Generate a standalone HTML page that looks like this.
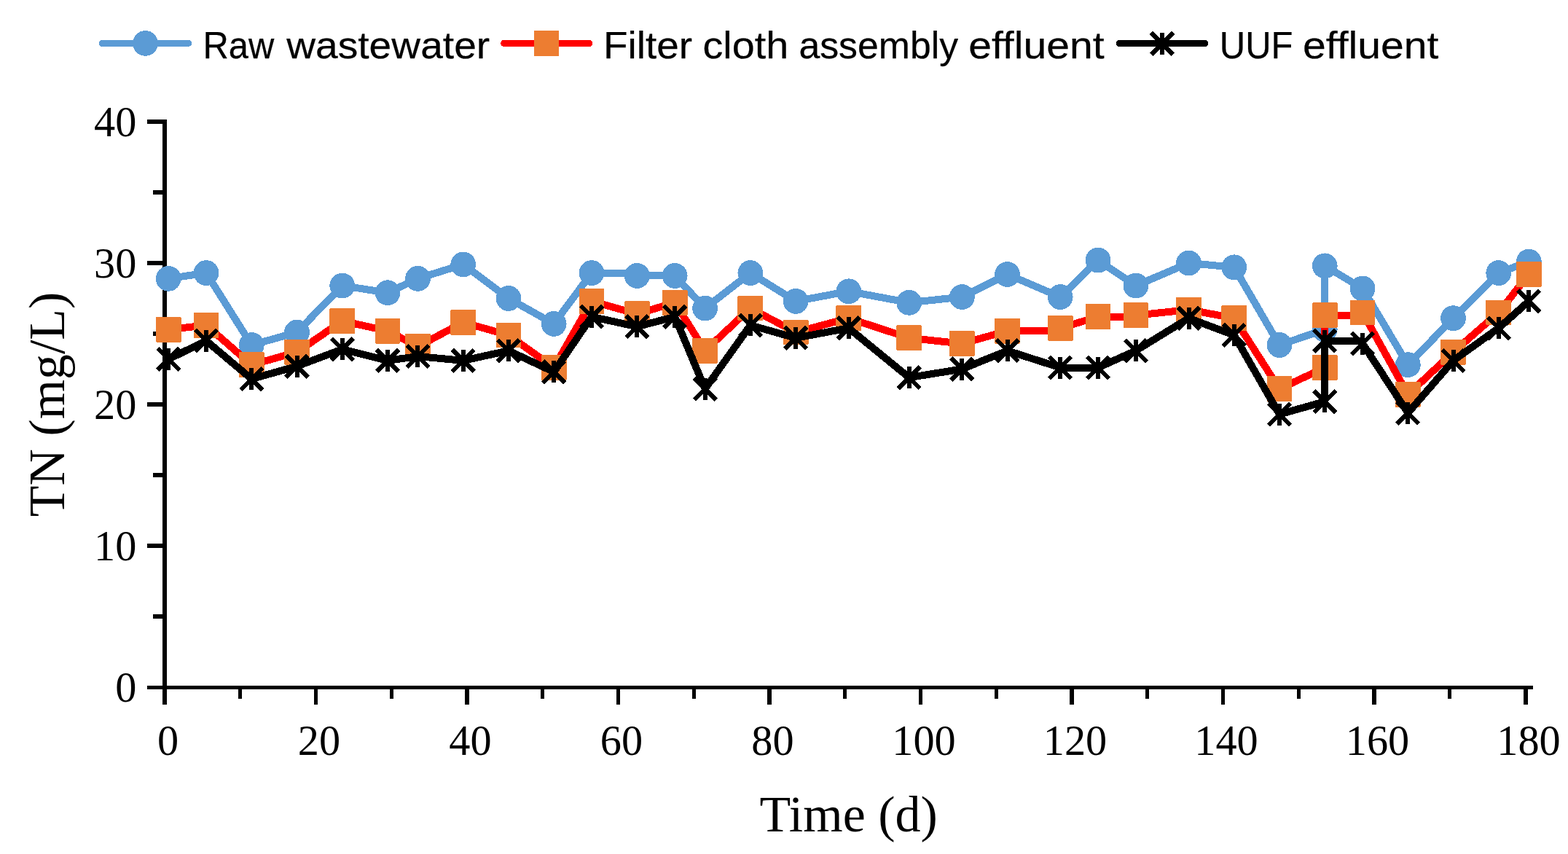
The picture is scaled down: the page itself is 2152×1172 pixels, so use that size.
<!DOCTYPE html>
<html lang="en"><head><meta charset="utf-8"><title>TN (mg/L) over Time (d)</title>
<style>html,body{margin:0;padding:0;background:#fff}body{width:2152px;height:1172px;overflow:hidden}svg{display:block}.ser{font-family:"Liberation Serif",serif;fill:#000}.san{font-family:"Liberation Sans",sans-serif;fill:#000}</style></head><body>
<svg width="2152" height="1172" viewBox="0 0 2152 1172" shape-rendering="crispEdges">
<rect width="2152" height="1172" fill="#fff"/>
<g stroke="#000" fill="none" stroke-linecap="butt">
<line x1="226.0" y1="164" x2="226.0" y2="946" stroke-width="6"/>
<line x1="223.0" y1="943.5" x2="2103.88" y2="943.5" stroke-width="5.5"/>
<line x1="202" y1="167" x2="226.0" y2="167" stroke-width="6"/>
<line x1="210" y1="264" x2="226.0" y2="264" stroke-width="6"/>
<line x1="202" y1="361" x2="226.0" y2="361" stroke-width="6"/>
<line x1="210" y1="458" x2="226.0" y2="458" stroke-width="6"/>
<line x1="202" y1="555" x2="226.0" y2="555" stroke-width="6"/>
<line x1="210" y1="652" x2="226.0" y2="652" stroke-width="6"/>
<line x1="202" y1="749" x2="226.0" y2="749" stroke-width="6"/>
<line x1="210" y1="846" x2="226.0" y2="846" stroke-width="6"/>
<line x1="202" y1="943.5" x2="226.0" y2="943.5" stroke-width="5.5"/>
<line x1="226.00" y1="943" x2="226.00" y2="967" stroke-width="6"/>
<line x1="329.75" y1="943" x2="329.75" y2="959" stroke-width="5.2"/>
<line x1="433.50" y1="943" x2="433.50" y2="967" stroke-width="5.2"/>
<line x1="537.25" y1="943" x2="537.25" y2="959" stroke-width="5.2"/>
<line x1="641.00" y1="943" x2="641.00" y2="967" stroke-width="5.2"/>
<line x1="744.75" y1="943" x2="744.75" y2="959" stroke-width="5.2"/>
<line x1="848.50" y1="943" x2="848.50" y2="967" stroke-width="5.2"/>
<line x1="952.25" y1="943" x2="952.25" y2="959" stroke-width="5.2"/>
<line x1="1056.00" y1="943" x2="1056.00" y2="967" stroke-width="5.2"/>
<line x1="1159.75" y1="943" x2="1159.75" y2="959" stroke-width="5.2"/>
<line x1="1263.50" y1="943" x2="1263.50" y2="967" stroke-width="5.2"/>
<line x1="1367.25" y1="943" x2="1367.25" y2="959" stroke-width="5.2"/>
<line x1="1471.00" y1="943" x2="1471.00" y2="967" stroke-width="5.2"/>
<line x1="1574.75" y1="943" x2="1574.75" y2="959" stroke-width="5.2"/>
<line x1="1678.50" y1="943" x2="1678.50" y2="967" stroke-width="5.2"/>
<line x1="1782.25" y1="943" x2="1782.25" y2="959" stroke-width="5.2"/>
<line x1="1886.00" y1="943" x2="1886.00" y2="967" stroke-width="5.2"/>
<line x1="1989.75" y1="943" x2="1989.75" y2="959" stroke-width="5.2"/>
<line x1="2093.50" y1="943" x2="2093.50" y2="967" stroke-width="6"/>
</g>
<g class="ser" font-size="58.33">
<text x="187.3" y="186.6" text-anchor="end">40</text>
<text x="187.3" y="380.6" text-anchor="end">30</text>
<text x="187.3" y="574.6" text-anchor="end">20</text>
<text x="187.3" y="768.6" text-anchor="end">10</text>
<text x="187.3" y="962.6" text-anchor="end">0</text>
<text x="230.50" y="1035.5" text-anchor="middle">0</text>
<text x="438.00" y="1035.5" text-anchor="middle">20</text>
<text x="645.50" y="1035.5" text-anchor="middle">40</text>
<text x="853.00" y="1035.5" text-anchor="middle">60</text>
<text x="1060.50" y="1035.5" text-anchor="middle">80</text>
<text x="1268.00" y="1035.5" text-anchor="middle">100</text>
<text x="1475.50" y="1035.5" text-anchor="middle">120</text>
<text x="1683.00" y="1035.5" text-anchor="middle">140</text>
<text x="1890.50" y="1035.5" text-anchor="middle">160</text>
<text x="2098.00" y="1035.5" text-anchor="middle">180</text>
</g>
<text class="ser" font-size="70.6" x="1042.6" y="1140.8" textLength="244.2" lengthAdjust="spacingAndGlyphs">Time (d)</text>
<text class="ser" font-size="70.6" transform="translate(87.9 709.2) rotate(-90)" textLength="308.5" lengthAdjust="spacingAndGlyphs">TN (mg/L)</text>
<g fill="none" stroke-width="10.0" stroke-linejoin="round" stroke-linecap="round">
<polyline stroke="#5B9BD5" points="231.19,382.34 283.05,374.58 345.29,473.52 407.52,456.06 469.76,392.04 532.00,401.74 573.49,382.34 635.73,362.94 697.96,409.50 760.20,444.42 812.06,374.58 874.30,374.58 874.30,378.46 926.16,378.46 967.66,423.08 1029.89,374.58 1092.13,413.38 1164.74,399.80 1247.72,415.32 1320.33,407.56 1382.57,376.52 1455.18,407.56 1507.04,357.12 1558.90,392.04 1631.51,361.00 1693.75,366.82 1755.99,473.52 1818.22,452.18 1818.22,364.88 1870.09,395.92 1932.33,500.68 1994.56,436.66 2056.80,374.58 2098.29,359.06"/>
</g>
<g fill="#5B9BD5"><circle cx="231.19" cy="382.34" r="17.4"/><circle cx="283.05" cy="374.58" r="17.4"/><circle cx="345.29" cy="473.52" r="17.4"/><circle cx="407.52" cy="456.06" r="17.4"/><circle cx="469.76" cy="392.04" r="17.4"/><circle cx="532.00" cy="401.74" r="17.4"/><circle cx="573.49" cy="382.34" r="17.4"/><circle cx="635.73" cy="362.94" r="17.4"/><circle cx="697.96" cy="409.50" r="17.4"/><circle cx="760.20" cy="444.42" r="17.4"/><circle cx="812.06" cy="374.58" r="17.4"/><circle cx="874.30" cy="378.46" r="17.4"/><circle cx="926.16" cy="378.46" r="17.4"/><circle cx="967.66" cy="423.08" r="17.4"/><circle cx="1029.89" cy="374.58" r="17.4"/><circle cx="1092.13" cy="413.38" r="17.4"/><circle cx="1164.74" cy="399.80" r="17.4"/><circle cx="1247.72" cy="415.32" r="17.4"/><circle cx="1320.33" cy="407.56" r="17.4"/><circle cx="1382.57" cy="376.52" r="17.4"/><circle cx="1455.18" cy="407.56" r="17.4"/><circle cx="1507.04" cy="357.12" r="17.4"/><circle cx="1558.90" cy="392.04" r="17.4"/><circle cx="1631.51" cy="361.00" r="17.4"/><circle cx="1693.75" cy="366.82" r="17.4"/><circle cx="1755.99" cy="473.52" r="17.4"/><circle cx="1818.22" cy="452.18" r="17.4"/><circle cx="1818.22" cy="364.88" r="17.4"/><circle cx="1870.09" cy="395.92" r="17.4"/><circle cx="1932.33" cy="500.68" r="17.4"/><circle cx="1994.56" cy="436.66" r="17.4"/><circle cx="2056.80" cy="374.58" r="17.4"/><circle cx="2098.29" cy="359.06" r="17.4"/></g>
<g fill="none" stroke-width="10.0" stroke-linejoin="round" stroke-linecap="round">
<polyline stroke="#FF0000" points="231.19,452.18 283.05,446.36 345.29,500.68 407.52,483.22 469.76,440.54 532.00,454.12 573.49,475.46 635.73,442.48 697.96,459.94 760.20,504.56 812.06,413.38 874.30,430.84 926.16,415.32 967.66,481.28 1029.89,423.08 1092.13,456.06 1164.74,436.66 1247.72,463.82 1320.33,471.58 1382.57,454.12 1455.18,454.12 1455.18,450.24 1507.04,434.72 1558.90,434.72 1558.90,432.78 1631.51,425.02 1693.75,436.66 1755.99,533.66 1818.22,504.56 1818.22,432.78 1870.09,432.78 1870.09,428.90 1932.33,541.42 1994.56,483.22 2056.80,428.90 2098.29,376.52"/>
</g>
<g fill="#ED7D31"><rect x="213.79" y="434.78" width="34.8" height="34.8" rx="1.3"/><rect x="265.65" y="428.96" width="34.8" height="34.8" rx="1.3"/><rect x="327.89" y="483.28" width="34.8" height="34.8" rx="1.3"/><rect x="390.12" y="465.82" width="34.8" height="34.8" rx="1.3"/><rect x="452.36" y="423.14" width="34.8" height="34.8" rx="1.3"/><rect x="514.60" y="436.72" width="34.8" height="34.8" rx="1.3"/><rect x="556.09" y="458.06" width="34.8" height="34.8" rx="1.3"/><rect x="618.33" y="425.08" width="34.8" height="34.8" rx="1.3"/><rect x="680.56" y="442.54" width="34.8" height="34.8" rx="1.3"/><rect x="742.80" y="487.16" width="34.8" height="34.8" rx="1.3"/><rect x="794.66" y="395.98" width="34.8" height="34.8" rx="1.3"/><rect x="856.90" y="413.44" width="34.8" height="34.8" rx="1.3"/><rect x="908.76" y="397.92" width="34.8" height="34.8" rx="1.3"/><rect x="950.26" y="463.88" width="34.8" height="34.8" rx="1.3"/><rect x="1012.49" y="405.68" width="34.8" height="34.8" rx="1.3"/><rect x="1074.73" y="438.66" width="34.8" height="34.8" rx="1.3"/><rect x="1147.34" y="419.26" width="34.8" height="34.8" rx="1.3"/><rect x="1230.32" y="446.42" width="34.8" height="34.8" rx="1.3"/><rect x="1302.93" y="454.18" width="34.8" height="34.8" rx="1.3"/><rect x="1365.17" y="436.72" width="34.8" height="34.8" rx="1.3"/><rect x="1437.78" y="432.84" width="34.8" height="34.8" rx="1.3"/><rect x="1489.64" y="417.32" width="34.8" height="34.8" rx="1.3"/><rect x="1541.50" y="415.38" width="34.8" height="34.8" rx="1.3"/><rect x="1614.11" y="407.62" width="34.8" height="34.8" rx="1.3"/><rect x="1676.35" y="419.26" width="34.8" height="34.8" rx="1.3"/><rect x="1738.59" y="516.26" width="34.8" height="34.8" rx="1.3"/><rect x="1800.82" y="487.16" width="34.8" height="34.8" rx="1.3"/><rect x="1800.82" y="415.38" width="34.8" height="34.8" rx="1.3"/><rect x="1852.69" y="411.50" width="34.8" height="34.8" rx="1.3"/><rect x="1914.93" y="524.02" width="34.8" height="34.8" rx="1.3"/><rect x="1977.16" y="465.82" width="34.8" height="34.8" rx="1.3"/><rect x="2039.40" y="411.50" width="34.8" height="34.8" rx="1.3"/><rect x="2080.89" y="359.12" width="34.8" height="34.8" rx="1.3"/></g>
<g fill="none" stroke-width="10.0" stroke-linejoin="round" stroke-linecap="round">
<polyline stroke="#000" points="231.19,492.92 283.05,467.70 345.29,520.08 407.52,502.62 469.76,479.34 532.00,494.86 573.49,489.04 635.73,494.86 697.96,481.28 760.20,510.38 812.06,434.72 874.30,448.30 926.16,434.72 967.66,533.66 1029.89,446.36 1092.13,463.82 1164.74,450.24 1247.72,518.14 1320.33,506.50 1382.57,481.28 1455.18,504.56 1507.04,504.56 1558.90,481.28 1631.51,436.66 1693.75,459.94 1755.99,568.58 1818.22,551.12 1818.22,467.70 1870.09,467.70 1870.09,471.58 1932.33,566.64 1994.56,494.86 2056.80,450.24 2098.29,413.38"/>
</g>
<g fill="none" stroke="#000" stroke-width="6.0"><path d="M231.19 477.92V507.92M216.19 477.92L246.19 507.92M216.19 507.92L246.19 477.92"/><path d="M283.05 452.70V482.70M268.05 452.70L298.05 482.70M268.05 482.70L298.05 452.70"/><path d="M345.29 505.08V535.08M330.29 505.08L360.29 535.08M330.29 535.08L360.29 505.08"/><path d="M407.52 487.62V517.62M392.52 487.62L422.52 517.62M392.52 517.62L422.52 487.62"/><path d="M469.76 464.34V494.34M454.76 464.34L484.76 494.34M454.76 494.34L484.76 464.34"/><path d="M532.00 479.86V509.86M517.00 479.86L547.00 509.86M517.00 509.86L547.00 479.86"/><path d="M573.49 474.04V504.04M558.49 474.04L588.49 504.04M558.49 504.04L588.49 474.04"/><path d="M635.73 479.86V509.86M620.73 479.86L650.73 509.86M620.73 509.86L650.73 479.86"/><path d="M697.96 466.28V496.28M682.96 466.28L712.96 496.28M682.96 496.28L712.96 466.28"/><path d="M760.20 495.38V525.38M745.20 495.38L775.20 525.38M745.20 525.38L775.20 495.38"/><path d="M812.06 419.72V449.72M797.06 419.72L827.06 449.72M797.06 449.72L827.06 419.72"/><path d="M874.30 433.30V463.30M859.30 433.30L889.30 463.30M859.30 463.30L889.30 433.30"/><path d="M926.16 419.72V449.72M911.16 419.72L941.16 449.72M911.16 449.72L941.16 419.72"/><path d="M967.66 518.66V548.66M952.66 518.66L982.66 548.66M952.66 548.66L982.66 518.66"/><path d="M1029.89 431.36V461.36M1014.89 431.36L1044.89 461.36M1014.89 461.36L1044.89 431.36"/><path d="M1092.13 448.82V478.82M1077.13 448.82L1107.13 478.82M1077.13 478.82L1107.13 448.82"/><path d="M1164.74 435.24V465.24M1149.74 435.24L1179.74 465.24M1149.74 465.24L1179.74 435.24"/><path d="M1247.72 503.14V533.14M1232.72 503.14L1262.72 533.14M1232.72 533.14L1262.72 503.14"/><path d="M1320.33 491.50V521.50M1305.33 491.50L1335.33 521.50M1305.33 521.50L1335.33 491.50"/><path d="M1382.57 466.28V496.28M1367.57 466.28L1397.57 496.28M1367.57 496.28L1397.57 466.28"/><path d="M1455.18 489.56V519.56M1440.18 489.56L1470.18 519.56M1440.18 519.56L1470.18 489.56"/><path d="M1507.04 489.56V519.56M1492.04 489.56L1522.04 519.56M1492.04 519.56L1522.04 489.56"/><path d="M1558.90 466.28V496.28M1543.90 466.28L1573.90 496.28M1543.90 496.28L1573.90 466.28"/><path d="M1631.51 421.66V451.66M1616.51 421.66L1646.51 451.66M1616.51 451.66L1646.51 421.66"/><path d="M1693.75 444.94V474.94M1678.75 444.94L1708.75 474.94M1678.75 474.94L1708.75 444.94"/><path d="M1755.99 553.58V583.58M1740.99 553.58L1770.99 583.58M1740.99 583.58L1770.99 553.58"/><path d="M1818.22 536.12V566.12M1803.22 536.12L1833.22 566.12M1803.22 566.12L1833.22 536.12"/><path d="M1818.22 452.70V482.70M1803.22 452.70L1833.22 482.70M1803.22 482.70L1833.22 452.70"/><path d="M1870.09 456.58V486.58M1855.09 456.58L1885.09 486.58M1855.09 486.58L1885.09 456.58"/><path d="M1932.33 551.64V581.64M1917.33 551.64L1947.33 581.64M1917.33 581.64L1947.33 551.64"/><path d="M1994.56 479.86V509.86M1979.56 479.86L2009.56 509.86M1979.56 509.86L2009.56 479.86"/><path d="M2056.80 435.24V465.24M2041.80 435.24L2071.80 465.24M2041.80 465.24L2071.80 435.24"/><path d="M2098.29 398.38V428.38M2083.29 398.38L2113.29 428.38M2083.29 428.38L2113.29 398.38"/></g>
<g fill="none" stroke-width="9.2" stroke-linecap="round">
<line x1="140.4" y1="59.4" x2="258.5" y2="59.4" stroke="#5B9BD5"/>
<line x1="691.7" y1="59.4" x2="808.8" y2="59.4" stroke="#FF0000"/>
<line x1="1536.3" y1="59.4" x2="1653.7" y2="59.4" stroke="#000"/>
</g>
<g fill="#5B9BD5"><circle cx="199.50" cy="59.40" r="17.4"/></g>
<g fill="#ED7D31"><rect x="732.60" y="42.00" width="34.8" height="34.8" rx="1.3"/></g>
<g fill="none" stroke="#000" stroke-width="6.0"><path d="M1595.00 44.90V74.90M1580.00 44.90L1610.00 74.90M1580.00 74.90L1610.00 44.90"/></g>
<g class="san" font-size="52.3" stroke="#000" stroke-width="0.25" stroke-linejoin="round">
<text y="80.0"><tspan x="278.5" textLength="97.8" lengthAdjust="spacingAndGlyphs">Raw</tspan> <tspan x="393.2" textLength="279.0" lengthAdjust="spacingAndGlyphs">wastewater</tspan></text>
<text y="80.0"><tspan x="828.0" textLength="122.1" lengthAdjust="spacingAndGlyphs">Filter</tspan> <tspan x="964.5" textLength="117.7" lengthAdjust="spacingAndGlyphs">cloth</tspan> <tspan x="1096.4" textLength="218.7" lengthAdjust="spacingAndGlyphs">assembly</tspan> <tspan x="1329.3" textLength="186.2" lengthAdjust="spacingAndGlyphs">effluent</tspan></text>
<text y="80.0"><tspan x="1673.8" textLength="100.7" lengthAdjust="spacingAndGlyphs">UUF</tspan> <tspan x="1788.1" textLength="186.2" lengthAdjust="spacingAndGlyphs">effluent</tspan></text>
</g>
</svg></body></html>
